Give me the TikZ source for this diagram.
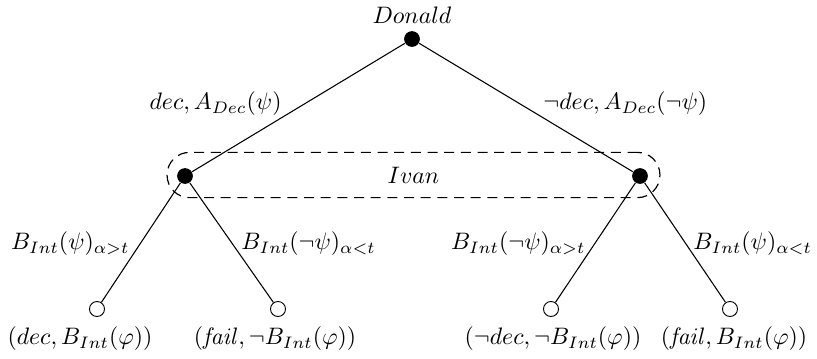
\documentclass[tikz,border=0pt]{standalone}
\begin{document}
\begin{tikzpicture}[x=0.42pt,y=-0.42pt,
  decnode/.style={circle,fill=black,inner sep=0pt,minimum size=6.6pt},
  leafnode/.style={circle,draw,fill=white,inner sep=0pt,minimum size=6.3pt},
  lbl/.style={inner sep=0pt},
  infoset/.style={draw,line width=0.5pt,dash pattern=on 4.2pt off 2.8pt,rounded corners=9.4pt,minimum width=207pt,minimum height=19pt,inner sep=0pt},
  edge/.style={line width=0.45pt}]
\useasboundingbox (0,0) rectangle (817,358);
% nodes
\node[decnode] (d) at (412,39) {};
\node[lbl] (dn) at (412,15) {$Donald$};
\node[infoset] (ivan) at (413.5,175) {$Ivan$};
\node[decnode] (i1) at (185,176) {};
\node[decnode] (i2) at (640,176) {};
\node[leafnode] (t1) at (97,309) {};
\node[leafnode] (t2) at (278,309) {};
\node[leafnode] (t3) at (551,309) {};
\node[leafnode] (t4) at (730,309) {};
% edges
\draw[edge] (d) -- (i1);
\draw[edge] (d) -- (i2);
\draw[edge] (i1) -- (t1);
\draw[edge] (i1) -- (t2);
\draw[edge] (i2) -- (t3);
\draw[edge] (i2) -- (t4);
% edge labels
\node[lbl,anchor=east] (e1) at (282,104) {$dec, A_{Dec}(\psi)$};
\node[lbl,anchor=west] (e2) at (543,104) {$\neg dec, A_{Dec}(\neg\psi)$};
\node[lbl,anchor=east] (e3) at (130,244) {$B_{Int}(\psi)_{\alpha>t}$};
\node[lbl,anchor=west] (e4) at (241,244) {$B_{Int}(\neg\psi)_{\alpha<t}$};
\node[lbl,anchor=east] (e5) at (586,244) {$B_{Int}(\neg\psi)_{\alpha>t}$};
\node[lbl,anchor=west] (e6) at (693,244) {$B_{Int}(\psi)_{\alpha<t}$};
% outcomes
\node[lbl] (o1) at (80,339) {$(dec, B_{Int}(\varphi))$};
\node[lbl] (o2) at (275,339) {$(\mathit{fail}, \neg B_{Int}(\varphi))$};
\node[lbl] (o3) at (553,339) {$(\neg dec, \neg B_{Int}(\varphi))$};
\node[lbl] (o4) at (734,339) {$(\mathit{fail}, B_{Int}(\varphi))$};
\end{tikzpicture}
\end{document}
